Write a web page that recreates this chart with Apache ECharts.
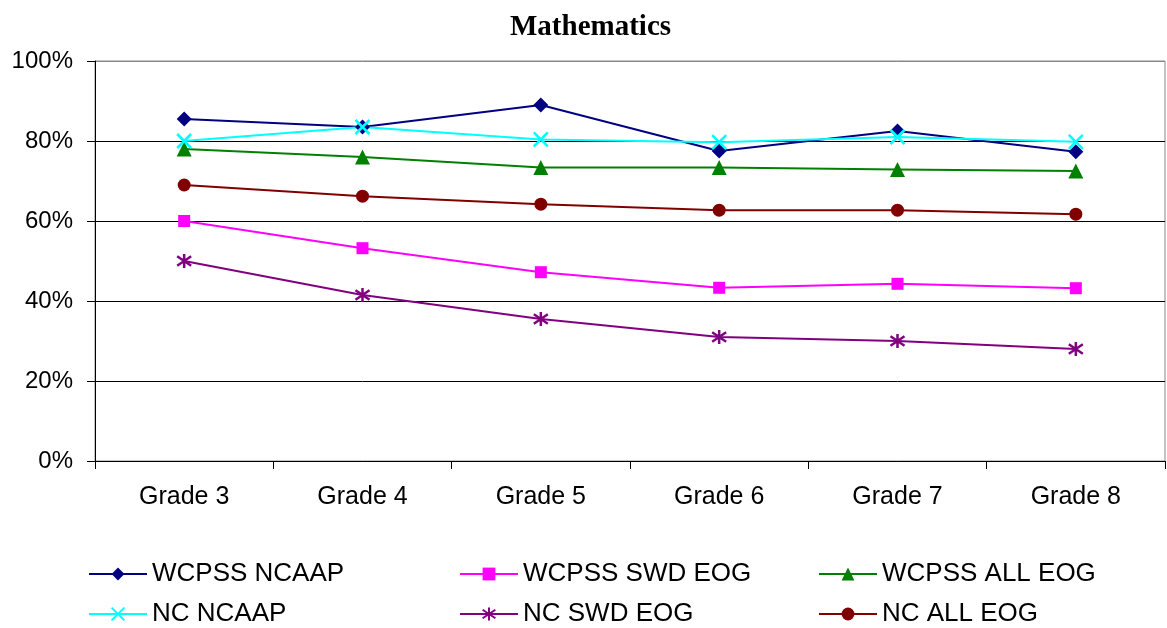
<!DOCTYPE html>
<html>
<head>
<meta charset="utf-8">
<title>Mathematics</title>
<script src="https://cdn.jsdelivr.net/npm/echarts@6/dist/echarts.min.js"></script>
<style>
  html, body { margin: 0; padding: 0; background: #fff; }
  #chart { width: 1167px; height: 628px; }
</style>
</head>
<body>
<div id="chart"></div>
<script>
// grades on the x axis
const grades = ['Grade 3', 'Grade 4', 'Grade 5', 'Grade 6', 'Grade 7', 'Grade 8'];

// percent proficient
const wcpssNcaap  = [85.5, 83.5, 89.0, 77.5, 82.5, 77.3];
const wcpssSwdEog = [60.0, 53.2, 47.2, 43.3, 44.3, 43.2];
const wcpssAllEog = [78.0, 76.0, 73.4, 73.4, 72.9, 72.5];
const ncNcaap     = [80.0, 83.5, 80.4, 79.7, 81.0, 79.8];
const ncSwdEog    = [50.0, 41.5, 35.5, 31.0, 30.0, 28.0];
const ncAllEog    = [69.0, 66.2, 64.2, 62.7, 62.7, 61.7];

const yTicks = [0, 20, 40, 60, 80, 100];

const xMark = 'path://M0,0L10,10M10,0L0,10';
const starMark = 'path://M0,1L10,9M10,1L0,9M5,-1L5,11';

function makeSeries(name, data, color, symbol, size, stroked) {
  return {
    name: name,
    type: 'line',
    data: data,
    symbol: symbol,
    symbolSize: size,
    showAllSymbol: true,
    lineStyle: { color: color, width: 2 },
    itemStyle: stroked
      ? { color: 'rgba(0,0,0,0)', borderColor: color, borderWidth: 2.5 }
      : { color: color, borderWidth: 0 },
    emphasis: { disabled: true },
    animation: false
  };
}

const chart = echarts.init(document.getElementById('chart'), null, { renderer: 'canvas' });

const legendText = { fontFamily: 'Liberation Sans', fontSize: 26, color: '#000' };
function legendCol(left, names) {
  return {
    orient: 'vertical',
    left: left,
    top: 561,
    height: 70,
    padding: 0,
    itemWidth: 58,
    itemHeight: 16,
    itemGap: 14,
    textStyle: legendText,
    selectedMode: false,
    data: names
  };
}

chart.setOption({
  backgroundColor: '#fff',
  animation: false,
  title: {
    text: 'Mathematics',
    left: 510,
    top: 13,
    padding: 0,
    textStyle: { fontFamily: 'Liberation Serif', fontWeight: 'bold', fontSize: 29, color: '#000' }
  },
  legend: [
    legendCol(88, ['WCPSS NCAAP', 'NC NCAAP']),
    legendCol(459, ['WCPSS SWD EOG', 'NC SWD EOG']),
    legendCol(818, ['WCPSS ALL EOG', 'NC ALL EOG'])
  ],
  grid: {
    left: 95, right: 2, top: 61, bottom: 167,
    show: true, borderColor: '#888', borderWidth: 1
  },
  xAxis: {
    type: 'category',
    data: grades,
    boundaryGap: true,
    axisLine: { lineStyle: { color: '#000', width: 1 } },
    axisTick: { show: true, length: 8, alignWithLabel: false, lineStyle: { color: '#000' } },
    axisLabel: { margin: 24, fontFamily: 'Liberation Sans', fontSize: 25, color: '#000' }
  },
  yAxis: {
    type: 'value',
    min: yTicks[0],
    max: yTicks[yTicks.length - 1],
    interval: 20,
    axisLine: { show: true, lineStyle: { color: '#000', width: 1 } },
    axisTick: { show: true, length: 8, lineStyle: { color: '#000' } },
    axisLabel: { margin: 22, formatter: '{value}%', fontFamily: 'Liberation Sans', fontSize: 24, color: '#000' },
    splitLine: { show: true, lineStyle: { color: ['#000', '#000', '#000', '#000', '#000', '#888'], width: 1 } }
  },
  series: [
    makeSeries('WCPSS NCAAP', wcpssNcaap, '#000080', 'diamond', 15, false),
    makeSeries('WCPSS SWD EOG', wcpssSwdEog, '#ff00ff', 'rect', 12, false),
    makeSeries('WCPSS ALL EOG', wcpssAllEog, '#008000', 'triangle', 15, false),
    makeSeries('NC NCAAP', ncNcaap, '#00ffff', xMark, 14, true),
    makeSeries('NC SWD EOG', ncSwdEog, '#800080', starMark, 14, true),
    makeSeries('NC ALL EOG', ncAllEog, '#800000', 'circle', 13, false)
  ]
});
</script>
</body>
</html>
